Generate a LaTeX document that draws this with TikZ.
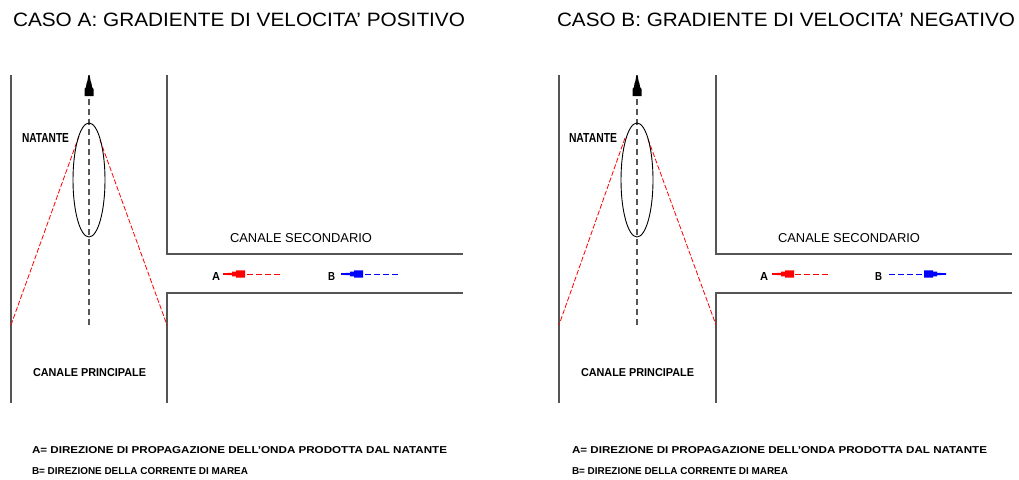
\documentclass[tikz,border=0pt]{standalone}
\usepackage{fontspec}
\setmainfont{Liberation Sans}
\usepackage{graphicx}
\usetikzlibrary{shapes.geometric}
\definecolor{wallgray}{RGB}{85,85,85}
\newcommand{\fitt}[3]{\resizebox{#1pt}{#2pt}{#3}}
\tikzset{
  wall/.style={draw=wallgray, line width=1.6pt},
  axisline/.style={draw=wallgray, line width=1.3pt, dash pattern=on 6pt off 4pt},
  wake/.style={draw=red, line width=0.8pt, dash pattern=on 5pt off 2pt},
  hull/.style={draw=black, line width=0.9pt, ellipse, minimum width=32pt, minimum height=114pt, inner sep=0pt},
  flowA/.style={draw=red, line width=1pt, dash pattern=on 6pt off 3pt},
  flowB/.style={draw=blue, line width=1pt, dash pattern=on 6pt off 3pt},
  lbl/.style={anchor=base west, inner sep=0pt, outer sep=0pt},
  pics/cadhead/.style={code={
    \fill (0,0.8) -- (-9,1.2) -- (-9,2.4) -- (-13,2.4) -- (-13,3.6) -- (-22,3.6)
      -- (-22,-3.6) -- (-13,-3.6) -- (-13,-2.4) -- (-9,-2.4) -- (-9,-1.2) -- (0,-0.8) -- cycle;
  }},
  pics/uphead/.style={code={
    \fill (0,0.6) -- (-6,1.6) -- (-9,2.6) -- (-12,3.0) -- (-14,4.5) -- (-21,4.5)
      -- (-21,-4.5) -- (-14,-4.5) -- (-12,-3.0) -- (-9,-2.6) -- (-6,-1.6) -- (0,-0.6) -- cycle;
  }},
}
\begin{document}
\begin{tikzpicture}[x=1pt, y=-1pt]
\useasboundingbox (0,0) rectangle (1019,479);

% ---------------- CASE A ----------------
\node[lbl] (titleA) at (13,27) {\fitt{452}{13.5}{CASO A: GRADIENTE DI VELOCITA' POSITIVO}};

% walls
\draw[wall] (11,75) -- (11,403);
\draw[wall] (167,75) -- (167,254) -- (463,254);
\draw[wall] (463,293) -- (167,293) -- (167,403);

% wake lines
\draw[wake] (79,136) -- (11,325);
\draw[wake] (100,140) -- (167,325);

% axis and hull
\coordinate (axA-top) at (89,96);
\coordinate (axA-bot) at (89,325);
\coordinate (axA-tip) at (89,75);
\draw[axisline] (axA-bot) -- (axA-top);
\pic[fill=black, rotate=90] at (axA-tip) {uphead};
\node[hull] (hullA) at (89,180) {};

\node[lbl] (natA) at (22,142) {\fitt{47}{9}{\bfseries NATANTE}};
\node[lbl] (csA) at (230,242) {\fitt{142}{9}{CANALE SECONDARIO}};
\node[lbl] (cpA) at (33,376) {\fitt{113}{8}{\bfseries CANALE PRINCIPALE}};

% flow arrows
\node[lbl] (labAa) at (212,280) {\fitt{8}{8}{\bfseries A}};
\node[lbl] (labAb) at (328,280) {\fitt{7}{8}{\bfseries B}};
\coordinate (aA-tail) at (280,274);
\coordinate (aA-tip) at (223,274);
\coordinate (bA-tail) at (398,274);
\coordinate (bA-tip) at (341,274);
\draw[flowA] (aA-tail) -- ([xshift=20]aA-tip);
\pic[fill=red, rotate=180] at (aA-tip) {cadhead};
\draw[flowB] (bA-tail) -- ([xshift=20]bA-tip);
\pic[fill=blue, rotate=180] at (bA-tip) {cadhead};

% legend
\node[lbl] (legA1) at (32,453) {\fitt{415}{7}{\bfseries A= DIREZIONE DI PROPAGAZIONE DELL'ONDA PRODOTTA DAL NATANTE}};
\node[lbl] (legA2) at (32,474) {\fitt{216}{7}{\bfseries B= DIREZIONE DELLA CORRENTE DI MAREA}};

% ---------------- CASE B ----------------
\node[lbl] (titleB) at (557,27) {\fitt{458}{13.5}{CASO B: GRADIENTE DI VELOCITA' NEGATIVO}};

\draw[wall] (559,75) -- (559,403);
\draw[wall] (716,75) -- (716,254) -- (1012,254);
\draw[wall] (1012,293) -- (716,293) -- (716,403);

\draw[wake] (625,138) -- (559,325);
\draw[wake] (648,139) -- (716,325);

\coordinate (axB-top) at (637,96);
\coordinate (axB-bot) at (637,325);
\coordinate (axB-tip) at (637,75);
\draw[axisline] (axB-bot) -- (axB-top);
\pic[fill=black, rotate=90] at (axB-tip) {uphead};
\node[hull] (hullB) at (637,180) {};

\node[lbl] (natB) at (569,142) {\fitt{48}{9}{\bfseries NATANTE}};
\node[lbl] (csB) at (778,242) {\fitt{142}{9}{CANALE SECONDARIO}};
\node[lbl] (cpB) at (581,376) {\fitt{113}{8}{\bfseries CANALE PRINCIPALE}};

\node[lbl] (labBa) at (760,280) {\fitt{8}{8}{\bfseries A}};
\node[lbl] (labBb) at (875,280) {\fitt{7}{8}{\bfseries B}};
\coordinate (aB-tail) at (828,274);
\coordinate (aB-tip) at (772,274);
\coordinate (bB-tail) at (889,274);
\coordinate (bB-tip) at (946,274);
\draw[flowA] (aB-tail) -- ([xshift=20]aB-tip);
\pic[fill=red, rotate=180] at (aB-tip) {cadhead};
\draw[flowB] (bB-tail) -- ([xshift=-20]bB-tip);
\pic[fill=blue] at (bB-tip) {cadhead};

\node[lbl] (legB1) at (572,453) {\fitt{415}{7}{\bfseries A= DIREZIONE DI PROPAGAZIONE DELL'ONDA PRODOTTA DAL NATANTE}};
\node[lbl] (legB2) at (572,474) {\fitt{216}{7}{\bfseries B= DIREZIONE DELLA CORRENTE DI MAREA}};
\end{tikzpicture}
\end{document}
